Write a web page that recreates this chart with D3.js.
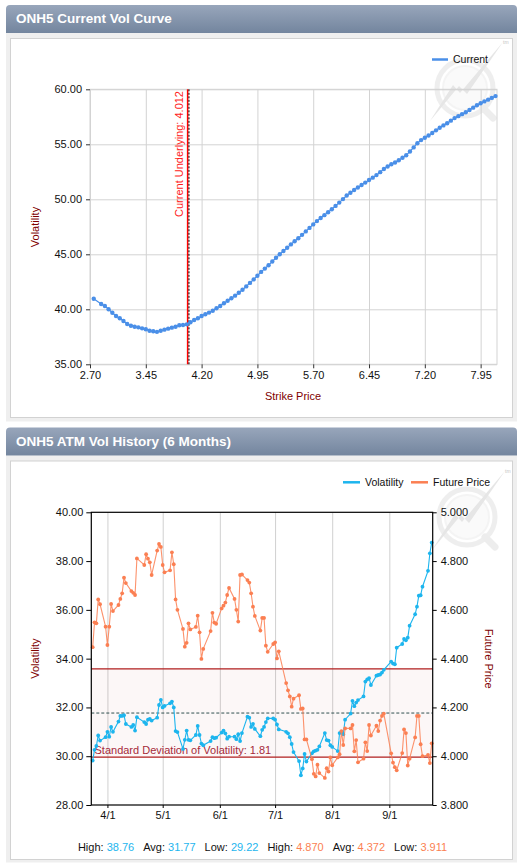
<!DOCTYPE html>
<html>
<head>
<meta charset="utf-8">
<script src="https://cdn.jsdelivr.net/npm/d3@7"></script>
<style>
  body { margin: 0; background: #fff; }
  svg { display: block; font-family: "Liberation Sans", Arial, sans-serif; }
</style>
</head>
<body>
<script>
// ---- current vol curve ----
const strikes = [2.75, 2.85, 2.90, 2.95, 3.00, 3.05, 3.10, 3.15, 3.20, 3.25, 3.30, 3.35, 3.40, 3.45, 3.50,
  3.55, 3.60, 3.65, 3.70, 3.75, 3.80, 3.85, 3.90, 3.95, 4.00, 4.05, 4.10, 4.15, 4.20, 4.25, 4.30, 4.35,
  4.40, 4.45, 4.50, 4.55, 4.60, 4.65, 4.70, 4.75, 4.80, 4.85, 4.90, 4.95, 5.00, 5.05, 5.10, 5.15, 5.20,
  5.25, 5.30, 5.35, 5.40, 5.45, 5.50, 5.55, 5.60, 5.65, 5.70, 5.75, 5.80, 5.85, 5.90, 5.95, 6.00, 6.05,
  6.10, 6.15, 6.20, 6.25, 6.30, 6.35, 6.40, 6.45, 6.50, 6.55, 6.60, 6.65, 6.70, 6.75, 6.80, 6.85, 6.90,
  6.95, 7.00, 7.05, 7.10, 7.15, 7.20, 7.25, 7.30, 7.35, 7.40, 7.45, 7.50, 7.55, 7.60, 7.65, 7.70, 7.75,
  7.80, 7.85, 7.90, 7.95, 8.00, 8.05, 8.10, 8.15];
const currentVol = [40.96, 40.48, 40.30, 40.00, 39.69, 39.39, 39.18, 38.94, 38.66, 38.51, 38.42, 38.36, 38.27,
  38.18, 38.05, 38.00, 37.95, 38.05, 38.15, 38.24, 38.33, 38.42, 38.55, 38.57, 38.63, 38.82, 39.03, 39.18,
  39.39, 39.55, 39.70, 39.87, 40.09, 40.30, 40.55, 40.78, 41.00, 41.24, 41.50, 41.78, 42.08, 42.40, 42.72,
  43.05, 43.40, 43.70, 44.00, 44.35, 44.68, 45.00, 45.30, 45.60, 45.90, 46.18, 46.46, 46.77, 47.08, 47.40,
  47.72, 48.02, 48.30, 48.56, 48.82, 49.10, 49.40, 49.70, 50.02, 50.34, 50.60, 50.84, 51.07, 51.30, 51.52,
  51.75, 51.97, 52.20, 52.47, 52.75, 52.98, 53.18, 53.35, 53.55, 53.78, 54.00, 54.35, 54.72, 55.10, 55.38,
  55.60, 55.80, 56.03, 56.27, 56.50, 56.72, 56.92, 57.15, 57.38, 57.56, 57.74, 57.92, 58.12, 58.33, 58.55,
  58.73, 58.90, 59.06, 59.22, 59.38];
const strikeTicks = [2.70, 3.45, 4.20, 4.95, 5.70, 6.45, 7.20, 7.95];
const curveVolTicks = [35, 40, 45, 50, 55, 60];
const underlying = 4.012;
const atmStrike = 4.03;

// ---- ATM vol history (2014) ----
const histDays = ['3/24', '3/25', '3/26', '3/27', '3/28', '3/31', '4/1', '4/2', '4/3', '4/4',
  '4/7', '4/8', '4/9', '4/10', '4/11', '4/14', '4/15', '4/16', '4/17', '4/21', '4/22', '4/23', '4/24', '4/25',
  '4/28', '4/29', '4/30', '5/1', '5/2', '5/5', '5/6', '5/7', '5/8', '5/9', '5/12', '5/13', '5/14', '5/15', '5/16',
  '5/19', '5/20', '5/21', '5/22', '5/23', '5/27', '5/28', '5/29', '5/30', '6/2', '6/3', '6/4', '6/5', '6/6',
  '6/9', '6/10', '6/11', '6/12', '6/13', '6/16', '6/17', '6/18', '6/19', '6/20', '6/23', '6/24', '6/25', '6/26', '6/27',
  '6/30', '7/1', '7/2', '7/3', '7/7', '7/8', '7/9', '7/10', '7/11', '7/14', '7/15', '7/16', '7/17', '7/18',
  '7/21', '7/22', '7/23', '7/24', '7/25', '7/28', '7/29', '7/30', '7/31', '8/1', '8/4', '8/5', '8/6', '8/7', '8/8',
  '8/11', '8/12', '8/13', '8/14', '8/15', '8/18', '8/19', '8/20', '8/21', '8/22', '8/25', '8/26', '8/27', '8/28', '8/29',
  '9/2', '9/3', '9/4', '9/5', '9/8', '9/9', '9/10', '9/11', '9/12', '9/15', '9/16', '9/17', '9/18', '9/19',
  '9/22', '9/23', '9/24'];
const histVol = [29.82, 30.26, 30.42, 30.85, 30.64, 30.78, 31.00, 30.80, 31.20, 31.00,
  31.42, 31.65, 31.65, 31.68, 31.32, 31.20, 31.28, 31.05, 31.60, 31.40, 31.32, 31.50, 31.53, 31.46,
  31.58, 32.10, 32.31, 32.00, 32.06, 32.17, 32.24, 32.00, 31.03, 30.99, 30.30, 30.67, 31.05, 30.67, 30.65,
  30.87, 31.24, 30.87, 30.52, 30.45, 30.62, 30.78, 30.74, 30.76, 30.97, 31.05, 30.94, 30.72, 30.80,
  30.80, 30.70, 30.90, 30.62, 30.95, 31.62, 31.58, 31.20, 31.33, 31.12, 30.82, 31.08, 31.20, 31.40, 31.55,
  31.55, 31.50, 31.30, 31.10, 31.00, 30.94, 30.78, 30.50, 30.17, 29.80, 29.22, 29.50, 30.09, 29.78,
  30.12, 30.20, 30.23, 30.26, 30.40, 30.95, 30.66, 30.64, 30.45, 30.38, 30.21, 30.95, 31.00, 30.90, 31.50,
  31.75, 32.27, 32.05, 32.20, 32.30, 32.45, 33.06, 33.15, 33.20, 32.92, 33.30, 33.33, 33.35, 33.43, 33.54,
  33.88, 33.80, 33.77, 34.45, 34.60, 34.81, 34.75, 34.86, 35.35, 35.82, 36.13, 36.58, 36.60, 36.95,
  37.60, 38.32, 38.76];
const histPrice = [4.447, 4.549, 4.545, 4.643, 4.623, 4.531, 4.456, 4.531, 4.624, 4.595,
  4.620, 4.645, 4.668, 4.732, 4.710, 4.677, 4.670, 4.661, 4.811, 4.784, 4.828, 4.810, 4.795, 4.743,
  4.843, 4.870, 4.858, 4.784, 4.754, 4.762, 4.836, 4.787, 4.643, 4.600, 4.522, 4.449, 4.465, 4.545, 4.520,
  4.530, 4.576, 4.508, 4.399, 4.440, 4.513, 4.588, 4.548, 4.543, 4.606, 4.617, 4.630, 4.661, 4.690,
  4.645, 4.600, 4.552, 4.743, 4.745, 4.722, 4.712, 4.668, 4.613, 4.575, 4.515, 4.567, 4.567, 4.453, 4.428,
  4.460, 4.467, 4.401, 4.430, 4.300, 4.270, 4.245, 4.203, 4.236, 4.250, 4.194, 4.196, 4.069, 4.069,
  3.988, 3.928, 3.917, 3.965, 3.931, 3.911, 3.951, 3.937, 3.995, 3.963, 3.995, 4.008, 4.103, 4.046, 4.114,
  4.114, 4.128, 4.020, 4.066, 3.975, 3.990, 4.057, 4.021, 4.128, 4.085, 4.125, 4.103, 4.146, 4.165, 4.175,
  4.012, 3.974, 3.955, 3.942, 4.013, 4.110, 4.095, 3.962, 3.990, 4.077, 4.165, 4.165, 4.049, 4.000,
  4.005, 3.972, 4.053];
const volAxisTicks = [28, 30, 32, 34, 36, 38, 40];
const priceAxisTicks = [3.8, 4.0, 4.2, 4.4, 4.6, 4.8, 5.0];
const volStats = [38.76, 31.77, 29.22];     // high, avg, low
const priceStats = [4.870, 4.372, 3.911];
const volStdDev = 1.81;

const W = 523, H = 867;
const maroon = '#800000';
const curveBlue = '#4a8fe8';
const volBlue = '#1db5ee';
const priceOrange = '#fb7f52';

let svg = d3.select('body').append('svg').attr('width', W).attr('height', H);

let defs = svg.append('defs');
let grad = defs.append('linearGradient').attr('id', 'hdr').attr('x1', 0).attr('y1', 0).attr('x2', 0).attr('y2', 1);
grad.append('stop').attr('offset', '0%').attr('stop-color', '#98a6bb');
grad.append('stop').attr('offset', '100%').attr('stop-color', '#73859e');

function panel(y0, bodyBottom, innerBottom, title) {
  let r = 4;
  svg.append('rect').attr('x', 6).attr('y', y0 + 28).attr('width', 511).attr('height', bodyBottom - y0 - 28)
    .attr('fill', '#efefef');
  svg.append('path')
    .attr('d', `M6,${y0 + 28} V${y0 + r} Q6,${y0} ${6 + r},${y0} H${517 - r} Q517,${y0} 517,${y0 + r} V${y0 + 28} Z`)
    .attr('fill', 'url(#hdr)');
  svg.append('text').attr('x', 16).attr('y', y0 + 18).attr('fill', '#fff')
    .attr('font-size', 13.5).attr('font-weight', 'bold').text(title);
  svg.append('rect').attr('x', 10.5).attr('y', y0 + 33.5).attr('width', 502).attr('height', innerBottom - y0 - 33)
    .attr('fill', '#fff').attr('stroke', '#d2d2d2');
}

function watermark(cx, cy) {
  let g = svg.append('g').attr('opacity', 0.6);
  g.append('circle').attr('cx', cx).attr('cy', cy).attr('r', 28)
    .attr('fill', 'none').attr('stroke', '#e4e4e4').attr('stroke-width', 5);
  g.append('circle').attr('cx', cx).attr('cy', cy).attr('r', 22)
    .attr('fill', '#f8f8f8').attr('stroke', '#eeeeee').attr('stroke-width', 2);
  g.append('line').attr('x1', cx + 18).attr('y1', cy + 20).attr('x2', cx + 28).attr('y2', cy + 30)
    .attr('stroke', '#e2e2e2').attr('stroke-width', 7).attr('stroke-linecap', 'round');
  g.append('path')
    .attr('d', `M${cx - 35},${cy + 33} L${cx - 12},${cy - 3} L${cx - 5},${cy + 5} L${cx + 38},${cy - 46} L${cx + 2},${cy + 6} L${cx - 6},${cy - 2} Z`)
    .attr('fill', '#d6d6d6');
  g.append('text').attr('x', cx + 38).attr('y', cy - 44).attr('font-size', 5).attr('fill', '#999').text('tm');
}

panel(5, 421.5, 417, 'ONH5 Current Vol Curve');
panel(427.5, 862.5, 859, 'ONH5 ATM Vol History (6 Months)');

// ================= top chart =================
let x1 = d3.scaleLinear().domain([2.70, 8.17]).range([90, 497]);
let y1 = d3.scaleLinear().domain([35, 60]).range([364.3, 89.3]);

watermark(465, 88);

let curveG = svg.append('g');
curveG.append('g').attr('transform', 'translate(0,364.3)')
  .call(d3.axisBottom(x1).tickValues(strikeTicks).tickSize(-275).tickFormat(''))
  .call((g) => g.select('.domain').remove())
  .selectAll('line').attr('stroke', '#d3d3d3');
curveG.append('g').attr('transform', 'translate(90,0)')
  .call(d3.axisLeft(y1).tickValues(curveVolTicks).tickSize(-407).tickFormat(''))
  .call((g) => g.select('.domain').remove())
  .selectAll('line').attr('stroke', '#d3d3d3');
curveG.append('rect').attr('x', 90).attr('y', 89.3).attr('width', 407).attr('height', 275)
  .attr('fill', 'none').attr('stroke', '#d3d3d3');

curveG.append('g').attr('transform', 'translate(90,0)')
  .call(d3.axisLeft(y1).tickValues(curveVolTicks).tickSize(4).tickPadding(4).tickFormat(d3.format('.2f')))
  .call((g) => g.select('.domain').remove())
  .call((g) => g.selectAll('line').attr('stroke', '#333'))
  .call((g) => g.selectAll('text').attr('fill', '#111').attr('font-size', 11).attr('font-family', null));
curveG.append('g').attr('transform', 'translate(0,364.3)')
  .call(d3.axisBottom(x1).tickValues(strikeTicks).tickSize(4).tickPadding(3).tickFormat(d3.format('.2f')))
  .call((g) => g.select('.domain').remove())
  .call((g) => g.selectAll('line').attr('stroke', '#333'))
  .call((g) => g.selectAll('text').attr('fill', '#111').attr('font-size', 11).attr('font-family', null));

curveG.append('text').attr('x', 293).attr('y', 400).attr('text-anchor', 'middle')
  .attr('font-size', 11).attr('fill', maroon).text('Strike Price');
curveG.append('text').attr('transform', 'translate(39,227) rotate(-90)').attr('text-anchor', 'middle')
  .attr('font-size', 11).attr('fill', maroon).text('Volatility');

// underlying markers
curveG.append('line').attr('x1', x1(underlying)).attr('x2', x1(underlying)).attr('y1', 89.3).attr('y2', 364.3)
  .attr('stroke', '#ff0000').attr('stroke-width', 1.5);
curveG.append('line').attr('x1', x1(atmStrike)).attr('x2', x1(atmStrike)).attr('y1', 89.3).attr('y2', 364.3)
  .attr('stroke', '#000').attr('stroke-width', 1).attr('stroke-dasharray', '2,1.5');
curveG.append('text').attr('transform', `translate(${x1(underlying) - 5},91) rotate(-90)`)
  .attr('text-anchor', 'end').attr('font-size', 11).attr('fill', '#ff1a1a')
  .text('Current Underlying: ' + underlying.toFixed(3));

let curve = strikes.map((s, i) => ({ s: s, v: currentVol[i] }));
curveG.append('path').datum(curve)
  .attr('fill', 'none').attr('stroke', curveBlue).attr('stroke-width', 1.2)
  .attr('d', d3.line().x((d) => x1(d.s)).y((d) => y1(d.v)));
curveG.selectAll('circle.cv').data(curve).enter().append('circle').attr('class', 'cv')
  .attr('cx', (d) => x1(d.s)).attr('cy', (d) => y1(d.v)).attr('r', 2.2).attr('fill', curveBlue);

// legend
curveG.append('line').attr('x1', 432).attr('x2', 448).attr('y1', 59.5).attr('y2', 59.5)
  .attr('stroke', curveBlue).attr('stroke-width', 2.5);
curveG.append('text').attr('x', 453).attr('y', 63.3).attr('font-size', 10.5).attr('fill', '#111').text('Current');

// ================= bottom chart =================
let parseDay = (s) => d3.timeParse('%m/%d/%Y')(s + '/2014');
let hist = histDays.map((s, i) => ({ date: parseDay(s), vol: histVol[i], price: histPrice[i] }));

let x2 = d3.scaleTime().domain([new Date(2014, 2, 23, 6), new Date(2014, 8, 24, 13)]).range([91.3, 432.7]);
let yVol = d3.scaleLinear().domain([28, 40]).range([805, 512.3]);
let yPrice = d3.scaleLinear().domain([3.8, 5.0]).range([805, 512.3]);
let monthTicks = d3.timeMonth.range(new Date(2014, 3, 1), new Date(2014, 8, 2));

watermark(467, 517);

let histG = svg.append('g');
histG.append('g').attr('transform', 'translate(0,805)')
  .call(d3.axisBottom(x2).tickValues(monthTicks).tickSize(-292.7).tickFormat(''))
  .call((g) => g.select('.domain').remove())
  .selectAll('line').attr('stroke', '#d0d0d0');

// std-dev band
let bandLo = volStats[1] - volStdDev;
let bandHi = volStats[1] + volStdDev;
histG.append('rect').attr('x', 91.3).attr('width', 341.4)
  .attr('y', yVol(bandHi)).attr('height', yVol(bandLo) - yVol(bandHi)).attr('fill', '#b22222').attr('fill-opacity', 0.035);
[bandLo, bandHi].forEach((v) => {
  histG.append('line').attr('x1', 91.3).attr('x2', 432.7).attr('y1', yVol(v)).attr('y2', yVol(v))
    .attr('stroke', '#b01e1e').attr('stroke-width', 1.3);
});
histG.append('line').attr('x1', 91.3).attr('x2', 432.7).attr('y1', yVol(volStats[1])).attr('y2', yVol(volStats[1]))
  .attr('stroke', '#2f4f4f').attr('stroke-width', 1).attr('stroke-dasharray', '3,2');
histG.append('text').attr('x', 94.5).attr('y', yVol(bandLo) - 3.5).attr('font-size', 11).attr('fill', '#a52a3a')
  .text('Standard Deviation of Volatility: ' + volStdDev.toFixed(2));

// series
histG.append('path').datum(hist)
  .attr('fill', 'none').attr('stroke', volBlue).attr('stroke-width', 1.1)
  .attr('d', d3.line().x((d) => x2(d.date)).y((d) => yVol(d.vol)));
histG.selectAll('circle.hv').data(hist).enter().append('circle').attr('class', 'hv')
  .attr('cx', (d) => x2(d.date)).attr('cy', (d) => yVol(d.vol)).attr('r', 1.9).attr('fill', volBlue);
histG.append('path').datum(hist)
  .attr('fill', 'none').attr('stroke', priceOrange).attr('stroke-opacity', 0.85).attr('stroke-width', 1.1)
  .attr('d', d3.line().x((d) => x2(d.date)).y((d) => yPrice(d.price)));
histG.selectAll('circle.hp').data(hist).enter().append('circle').attr('class', 'hp')
  .attr('cx', (d) => x2(d.date)).attr('cy', (d) => yPrice(d.price)).attr('r', 1.9).attr('fill', priceOrange);

// frame and axes
histG.append('rect').attr('x', 91.3).attr('y', 512.3).attr('width', 341.4).attr('height', 292.7)
  .attr('fill', 'none').attr('stroke', '#000').attr('stroke-width', 1.2);
histG.append('g').attr('transform', 'translate(91.3,0)')
  .call(d3.axisLeft(yVol).tickValues(volAxisTicks).tickSize(5).tickPadding(3).tickFormat(d3.format('.2f')))
  .call((g) => g.select('.domain').remove())
  .call((g) => g.selectAll('line').attr('stroke', '#000'))
  .call((g) => g.selectAll('text').attr('fill', '#111').attr('font-size', 11).attr('font-family', null));
histG.append('g').attr('transform', 'translate(432.7,0)')
  .call(d3.axisRight(yPrice).tickValues(priceAxisTicks).tickSize(4).tickPadding(4).tickFormat(d3.format('.3f')))
  .call((g) => g.select('.domain').remove())
  .call((g) => g.selectAll('line').attr('stroke', '#000'))
  .call((g) => g.selectAll('text').attr('fill', '#111').attr('font-size', 11).attr('font-family', null));
histG.append('g').attr('transform', 'translate(0,805)')
  .call(d3.axisBottom(x2).tickValues(monthTicks).tickSize(3).tickPadding(3).tickFormat(d3.timeFormat('%-m/%-d')))
  .call((g) => g.select('.domain').remove())
  .call((g) => g.selectAll('line').attr('stroke', '#000'))
  .call((g) => g.selectAll('text').attr('fill', '#111').attr('font-size', 11).attr('font-family', null));

histG.append('text').attr('transform', 'translate(39,658.6) rotate(-90)').attr('text-anchor', 'middle')
  .attr('font-size', 11).attr('fill', maroon).text('Volatility');
histG.append('text').attr('transform', 'translate(484.5,658.6) rotate(90)').attr('text-anchor', 'middle')
  .attr('font-size', 11).attr('fill', maroon).text('Future Price');

// legend
let legendItems = [
  { name: 'Volatility', color: volBlue, x: 343 },
  { name: 'Future Price', color: priceOrange, x: 411 },
];
legendItems.forEach((it) => {
  histG.append('line').attr('x1', it.x).attr('x2', it.x + 17).attr('y1', 482.3).attr('y2', 482.3)
    .attr('stroke', it.color).attr('stroke-width', 2.5);
  histG.append('text').attr('x', it.x + 22).attr('y', 486).attr('font-size', 10.5).attr('fill', '#111').text(it.name);
});

// footer stats
let footer = histG.append('text').attr('x', 262.5).attr('y', 851).attr('text-anchor', 'middle').attr('font-size', 11);
let statNames = ['High: ', 'Avg: ', 'Low: '];
volStats.forEach((v, i) => {
  footer.append('tspan').attr('fill', '#111').attr('dx', i === 0 ? 0 : 9).text(statNames[i]);
  footer.append('tspan').attr('fill', volBlue).text(v.toFixed(2));
});
priceStats.forEach((v, i) => {
  footer.append('tspan').attr('fill', '#111').attr('dx', 9).text(statNames[i]);
  footer.append('tspan').attr('fill', priceOrange).text(v.toFixed(3));
});
</script>
</body>
</html>
